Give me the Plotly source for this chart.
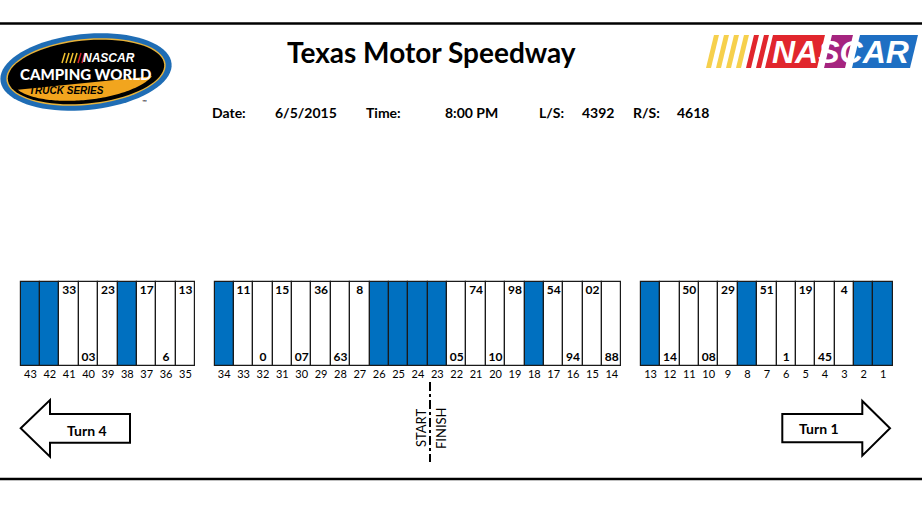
import numpy as np
import plotly.graph_objects as go

W, H = 922, 520

track_name = "Texas Motor Speedway"
info_labels = ["Date:", "Time:", "L/S:", "R/S:"]
info_values = ["6/5/2015", "8:00 PM", "4392", "4618"]

# pit stalls, left to right, three sections
stall_groups = [list(range(43, 34, -1)), list(range(34, 13, -1)), list(range(13, 0, -1))]
blue_stalls = [43, 42, 38, 34, 26, 25, 24, 23, 18, 13, 8, 2, 1]
car_stalls = [41, 40, 39, 37, 36, 35, 33, 32, 31, 30, 29, 28, 27, 22, 21, 20,
              19, 17, 16, 15, 14, 12, 11, 10, 9, 7, 6, 5, 4, 3]
car_numbers = ["33", "03", "23", "17", "6", "13", "11", "0", "15", "07", "36", "63",
               "8", "05", "74", "10", "98", "54", "94", "02", "88", "14", "50", "08",
               "29", "51", "1", "19", "45", "4"]

BLUE = "#0070C0"
FONT = "Lato"

# slot index along pit road, one empty slot between sections
slot = {}
k = 0
for g in stall_groups:
    for s in g:
        slot[s] = k
        k += 1
    k += 1
stalls = [s for g in stall_groups for s in g]

SW = 19.38          # px per stall
X0 = 20.7           # left edge of first stall
r0 = -0.5 - X0 / SW
r1 = r0 + W / SW


def px(v):
    return v / W


fig = go.Figure()

fig.add_trace(go.Bar(
    x=[slot[s] for s in stalls], y=[84] * len(stalls), base=282, width=1,
    marker=dict(color=[BLUE if s in blue_stalls else "white" for s in stalls],
                line=dict(color="#1a1a1a", width=1.2)),
    hoverinfo="skip"))

fig.add_trace(go.Scatter(
    x=[slot[s] for s in car_stalls],
    y=[291 if s % 2 else 358 for s in car_stalls],
    text=car_numbers, mode="text",
    textfont=dict(family=FONT, size=12, color="black", weight=700),
    hoverinfo="skip"))

fig.add_trace(go.Scatter(
    x=[slot[s] for s in stalls], y=[375] * len(stalls),
    text=[str(s) for s in stalls], mode="text",
    textfont=dict(family=FONT, size=11, color="black"),
    hoverinfo="skip"))

shapes = []
ann = []

# frame lines
for yy in (23.5, 479):
    shapes.append(dict(type="line", xref="paper", yref="y", x0=0, x1=1, y0=yy, y1=yy,
                       line=dict(color="black", width=2.5)))


def path(pts):
    return "M " + " L ".join(f"{px(a):.5f},{b:.2f}" for a, b in pts) + " Z"


# turn arrows
turn4 = [(20.7, 428.3), (50, 400), (50, 414), (130, 414), (130, 442.7), (50, 442.7), (50, 456.7)]
turn1 = [(782.3, 414), (862.3, 414), (862.3, 401), (890, 428.3), (862.3, 455.7), (862.3, 442.3), (782.3, 442.3)]
for p in (turn4, turn1):
    shapes.append(dict(type="path", xref="paper", yref="y", path=path(p),
                       fillcolor="white", line=dict(color="black", width=2)))
ann.append(dict(x=px(87), y=430, text="Turn 4", font=dict(family=FONT, size=14, color="black", weight=700)))
ann.append(dict(x=px(819), y=428, text="Turn 1", font=dict(family=FONT, size=14, color="black", weight=700)))

# start / finish
shapes.append(dict(type="line", xref="paper", yref="y", x0=px(430), x1=px(430), y0=382, y1=462,
                   line=dict(color="black", width=2, dash="dashdot")))
ann.append(dict(x=px(421), y=428, text="START", textangle=-90, font=dict(family=FONT, size=13, color="black")))
ann.append(dict(x=px(441), y=428, text="FINISH", textangle=-90, font=dict(family=FONT, size=13, color="black")))

# header text
ann.append(dict(x=px(431), y=52, text=track_name, font=dict(family=FONT, size=28, color="black", weight=700)))
label_x = [210, 364, 537, 631]
value_x = [273, 443, 580, 675]
for lx, lab, vx, val in zip(label_x, info_labels, value_x, info_values):
    ann.append(dict(x=px(lx), y=112, text=lab, xanchor="left", font=dict(family=FONT, size=14, color="black", weight=700)))
    ann.append(dict(x=px(vx), y=112, text=val, xanchor="left", font=dict(family=FONT, size=14, color="black", weight=700)))


# truck series oval logo
def ellipse(cx, cy, a, b, ang, t0=0, t1=2 * np.pi, n=80):
    t = np.linspace(t0, t1, n)
    c, s = np.cos(ang), np.sin(ang)
    xs = a * np.cos(t)
    ys = b * np.sin(t)
    return list(zip(cx + xs * c - ys * s, cy + xs * s + ys * c))


ang = -0.10
shapes.append(dict(type="path", xref="paper", yref="y", path=path(ellipse(86, 72, 86, 38, ang)),
                   fillcolor="#1F6DB5", line=dict(width=0)))
shapes.append(dict(type="path", xref="paper", yref="y", path=path(ellipse(86, 72, 80, 33, ang)),
                   fillcolor="#E8B33A", line=dict(width=0)))
shapes.append(dict(type="path", xref="paper", yref="y", path=path(ellipse(86, 72, 78.5, 31.5, ang)),
                   fillcolor="black", line=dict(width=0)))
tg = np.arcsin(9 / 26)
shapes.append(dict(type="path", xref="paper", yref="y",
                   path=path(ellipse(84, 74, 72, 26, ang, tg, np.pi - tg)),
                   fillcolor="#F2A51E", line=dict(width=0)))
for i in range(6):
    xx = 62 + i * 4
    shapes.append(dict(type="line", xref="paper", yref="y", x0=px(xx), x1=px(xx + 3), y0=63, y1=53,
                       line=dict(color="#F4C430" if i < 4 else "#D6262E", width=1.5)))
ann.append(dict(x=px(109), y=58, text="<i>NASCAR</i>", font=dict(family="Liberation Sans", size=12, color="white", weight=700)))
ann.append(dict(x=px(85), y=74, text="CAMPING WORLD", font=dict(family=FONT, size=15, color="white", weight=900)))
ann.append(dict(x=px(66), y=90, text="<i>TRUCK SERIES</i>", font=dict(family="Liberation Sans", size=10, color="black", weight=700)))
ann.append(dict(x=px(144), y=101, text="™", font=dict(family=FONT, size=6, color="black")))

# nascar logo, top right
stripe_cols = ["#F6D04D"] * 4 + ["#E1262D"] * 2
for i, col in enumerate(stripe_cols):
    xl = 706 + i * 10
    shapes.append(dict(type="path", xref="paper", yref="y",
                       path=path([(xl, 68), (xl + 8, 35), (xl + 13, 35), (xl + 5, 68)]),
                       fillcolor=col, line=dict(width=0)))
blocks = [(765, 824, "#E1262D"), (824, 852, "#A5247F"), (852, 917, "#1E6FC3")]
for xa, xb, col in blocks:
    shapes.append(dict(type="path", xref="paper", yref="y",
                       path=path([(xa, 68), (xa + 8, 35), (xb + 1, 35), (xb - 7, 68)]),
                       fillcolor=col, line=dict(width=0)))
ann.append(dict(x=px(840), y=52, text="<i>NASCAR</i>", font=dict(family="Liberation Sans", size=32, color="white", weight=900)))

for a in ann:
    a.setdefault("xref", "paper")
    a.setdefault("yref", "y")
    a.setdefault("xanchor", "center")
    a.setdefault("yanchor", "middle")
    a.setdefault("showarrow", False)

fig.update_layout(
    width=W, height=H, margin=dict(l=0, r=0, t=0, b=0),
    paper_bgcolor="white", plot_bgcolor="white", showlegend=False,
    xaxis=dict(range=[r0, r1], visible=False, fixedrange=True),
    yaxis=dict(range=[H, 0], visible=False, fixedrange=True),
    shapes=shapes, annotations=ann, bargap=0)

fig.write_html("out.html", config={"displayModeBar": False},
               post_script="document.body.style.margin='0';")
